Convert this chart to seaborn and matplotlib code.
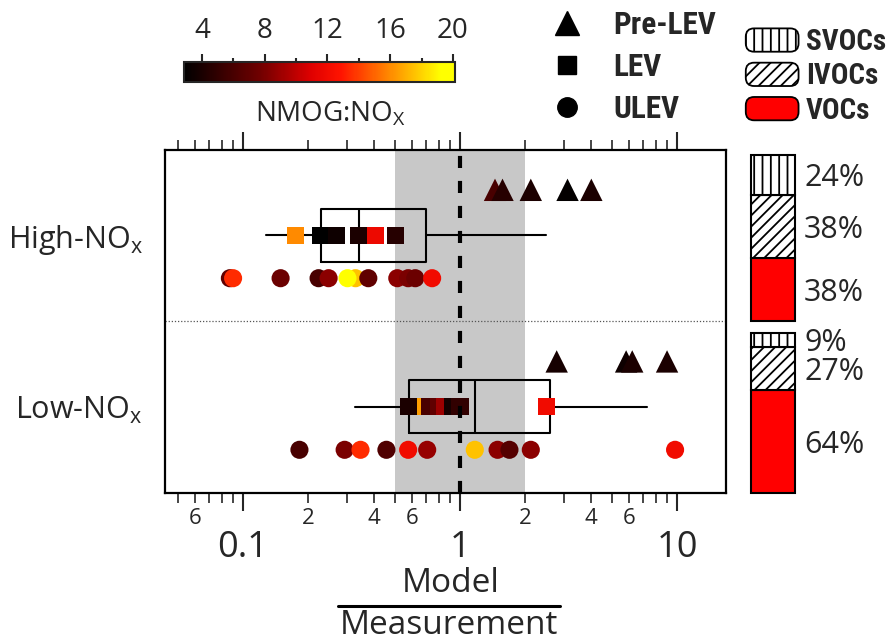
import numpy as np
import pandas as pd
import matplotlib
matplotlib.use("Agg")
import matplotlib.pyplot as plt
import seaborn as sns
from matplotlib.colors import LinearSegmentedColormap, Normalize
from matplotlib.cm import ScalarMappable
from matplotlib.lines import Line2D
from matplotlib.patches import Patch, FancyBboxPatch
from matplotlib.legend_handler import HandlerPatch
from matplotlib.ticker import FixedLocator, FixedFormatter, FuncFormatter

# ---------------- data ----------------
conditions = ["High-NOx", "Low-NOx"]
condition_labels = ["High-NO$_\\mathrm{x}$", "Low-NO$_\\mathrm{x}$"]
vehicle_classes = ["Pre-LEV", "LEV", "ULEV"]

# Model / Measurement ratio and NMOG:NOx per vehicle
high_prelev_ratio = [1.45, 1.57, 2.12, 3.13, 4.03]
high_prelev_nmog = [6.0, 4.5, 4.0, 3.0, 4.0]
high_lev_ratio = [0.175, 0.228, 0.27, 0.34, 0.408, 0.503]
high_lev_nmog = [16.0, 2.9, 3.5, 4.0, 11.8, 4.5]
high_ulev_ratio = [0.087, 0.090, 0.149, 0.223, 0.248, 0.33, 0.303, 0.378, 0.514, 0.577, 0.622, 0.744]
high_ulev_nmog = [7.0, 13.5, 7.5, 6.0, 8.5, 17.5, 19.5, 7.0, 8.5, 8.0, 7.5, 12.0]

low_prelev_ratio = [2.79, 5.83, 6.22, 9.0]
low_prelev_nmog = [3.8, 3.5, 4.0, 4.0]
low_lev_ratio = [0.645, 0.577, 0.72, 0.80, 0.845, 0.92, 1.0, 2.5]
low_lev_nmog = [16.5, 4.0, 6.0, 7.0, 9.0, 3.8, 5.0, 12.0]
low_ulev_ratio = [0.182, 0.294, 0.348, 0.458, 0.577, 0.706, 1.17, 1.49, 1.69, 2.12, 9.8]
low_ulev_nmog = [6.0, 8.0, 13.5, 6.3, 12.0, 8.8, 17.5, 8.5, 6.5, 8.5, 12.0]

# box-plot statistics (whisker low, Q1, median, Q3, whisker high)
high_box = [0.128, 0.230, 0.342, 0.696, 2.48]
low_box = [0.327, 0.585, 1.17, 2.61, 7.28]

# volatility contributions (%)
volatility_classes = ["SVOCs", "IVOCs", "VOCs"]
high_pct = [24, 38, 38]
low_pct = [9, 27, 64]

cbar_ticks = [4, 8, 12, 16, 20]
nmog_range = (2.85, 20.13)

# ---------------- build table ----------------
rows = []
series = {
    ("High-NOx", "Pre-LEV"): (high_prelev_ratio, high_prelev_nmog),
    ("High-NOx", "LEV"): (high_lev_ratio, high_lev_nmog),
    ("High-NOx", "ULEV"): (high_ulev_ratio, high_ulev_nmog),
    ("Low-NOx", "Pre-LEV"): (low_prelev_ratio, low_prelev_nmog),
    ("Low-NOx", "LEV"): (low_lev_ratio, low_lev_nmog),
    ("Low-NOx", "ULEV"): (low_ulev_ratio, low_ulev_nmog),
}
for (cond, cls), (r, n) in series.items():
    for rv, nv in zip(r, n):
        rows.append(dict(condition=cond, vclass=cls, ratio=rv, nmog=nv))
df = pd.DataFrame(rows)

cond_center = {"High-NOx": 1.5, "Low-NOx": 0.5}
class_offset = {"Pre-LEV": 0.265, "LEV": 0.0, "ULEV": -0.25}
df["ypos"] = df["condition"].map(cond_center) + df["vclass"].map(class_offset)

# ---------------- style ----------------
sns.set_style("white")
plt.rcParams["font.family"] = ["Open Sans", "DejaVu Sans"]
plt.rcParams["mathtext.fontset"] = "custom"
plt.rcParams["mathtext.rm"] = "Open Sans"
plt.rcParams["mathtext.it"] = "Open Sans:italic"
plt.rcParams["mathtext.bf"] = "Open Sans:bold"
plt.rcParams["hatch.linewidth"] = 1.3

cmap = LinearSegmentedColormap.from_list(
    "nmog",
    [(0.0, "#000000"), (0.28, "#700000"), (0.47, "#e00000"), (0.58, "#ff1400"),
     (0.77, "#ff9000"), (0.95, "#ffff00"), (1.0, "#ffff00")],
)
norm = Normalize(*nmog_range)

fig = plt.figure(figsize=(8.96, 6.41), dpi=100)
W, H = 896, 641


def px_axes(x0, y0, x1, y1):
    return fig.add_axes([x0 / W, 1 - y1 / H, (x1 - x0) / W, (y1 - y0) / H])


ax = px_axes(165, 149.5, 725.7, 492.7)

# gray factor-of-two band and reference lines
ax.axvspan(0.5, 2.0, color="#c8c8c8", lw=0, zorder=0)
ax.axhline(1.0, color="#555555", lw=0.9, ls=(0, (1, 1.5)), zorder=1)

# box plots
def stats(b):
    return dict(whislo=b[0], q1=b[1], med=b[2], q3=b[3], whishi=b[4], fliers=[])

ax.bxp([stats(high_box), stats(low_box)], positions=[cond_center["High-NOx"], cond_center["Low-NOx"]],
       widths=0.31, orientation="horizontal", showfliers=False, showcaps=False,
       boxprops=dict(color="k", lw=1.5), whiskerprops=dict(color="k", lw=1.5),
       medianprops=dict(color="k", lw=1.5), manage_ticks=False, zorder=3)

markers = {"Pre-LEV": "^", "LEV": "s", "ULEV": "o"}
sizes = {"Pre-LEV": 260, "LEV": 150, "ULEV": 170}
for cls in vehicle_classes:
    sub = df[df["vclass"] == cls]
    sns.scatterplot(data=sub, x="ratio", y="ypos", hue="nmog", palette=cmap, hue_norm=norm,
                    marker=markers[cls], s=sizes[cls], linewidth=0, legend=False, ax=ax, zorder=4)

ax.axvline(1.0, color="k", lw=3, ls=(0, (2.9, 3.1)), zorder=6)

ax.set_xscale("log")
ax.set_xlim(0.0437, 16.77)
ax.set_ylim(0, 2)
ax.set_xlabel("")
ax.set_ylabel("")

ax.xaxis.set_major_locator(FixedLocator([0.1, 1, 10]))
ax.xaxis.set_major_formatter(FixedFormatter(["0.1", "1", "10"]))
minor_vals = [k * 10.0 ** e for e in (-2, -1, 0, 1) for k in range(2, 10)]
ax.xaxis.set_minor_locator(FixedLocator(minor_vals))


def minor_fmt(v, pos):
    k = v / 10 ** np.floor(np.log10(v) + 1e-9)
    k = int(round(k))
    return str(k) if k in (2, 4, 6) else ""


ax.xaxis.set_minor_formatter(FuncFormatter(minor_fmt))
ax.tick_params(axis="x", which="major", direction="out", length=13, width=1.5, labelsize=26,
               pad=14, top=True, bottom=True)
ax.tick_params(axis="x", which="minor", direction="out", length=7, width=1.2, labelsize=16,
               pad=4, top=True, bottom=True)
ax.set_yticks([cond_center[c] for c in conditions])
ax.set_yticklabels(condition_labels)
ax.tick_params(axis="y", length=0, labelsize=22, pad=16)
for s in ax.spines.values():
    s.set_linewidth(1.6)
    s.set_color("k")

# fraction x-label
fig.text(451 / W, 1 - 583 / H, "Model", ha="center", va="center", fontsize=24)
fig.add_artist(Line2D([338 / W, 560 / W], [1 - 606 / H, 1 - 606 / H], color="k", lw=2.2))
fig.text(449 / W, 1 - 626 / H, "Measurement", ha="center", va="center", fontsize=24)

# ---------------- colorbar ----------------
cax = px_axes(184, 62, 455, 82)
cb = fig.colorbar(ScalarMappable(norm=norm, cmap=cmap), cax=cax, orientation="horizontal")
cb.outline.set_linewidth(1.5)
cax.xaxis.set_ticks_position("top")
cax.xaxis.set_label_position("top")
cb.set_ticks(cbar_ticks)
cax.xaxis.set_minor_locator(FixedLocator([6, 10, 14, 18]))
cax.tick_params(which="major", length=6, width=1.5, labelsize=20, pad=6)
cax.tick_params(which="minor", length=3, width=1.5)
cax.text(0.54, -1.6, "NMOG:NO$_\\mathrm{X}$", transform=cax.transAxes, ha="center", va="center",
         fontsize=20)

legend_font = ["Liberation Sans Narrow", "Roboto Condensed", "Roboto"]

# ---------------- vehicle class legend ----------------
mk_handles = [Line2D([], [], marker=markers[c], color="k", ls="none",
                     markersize={"Pre-LEV": 17, "LEV": 13, "ULEV": 14}[c]) for c in vehicle_classes]
fig.legend(mk_handles, vehicle_classes, loc="upper left", bbox_to_anchor=(551 / W, 1 - 10 / H),
           frameon=False, borderpad=0, borderaxespad=0, handlelength=1.0, handletextpad=1.0,
           labelspacing=0.38, prop=dict(family=legend_font, weight="bold", size=22.5))


# ---------------- volatility legend ----------------
class HandlerRound(HandlerPatch):
    def create_artists(self, legend, orig_handle, xdescent, ydescent, width, height, fontsize, trans):
        p = FancyBboxPatch((-xdescent + 2, -ydescent + 1), width - 4, height - 2,
                           boxstyle="round,pad=0,rounding_size=6",
                           facecolor=orig_handle.get_facecolor(), edgecolor="k",
                           hatch=orig_handle.get_hatch(), lw=1.3, transform=trans)
        return [p]


vol_fc = {"SVOCs": "white", "IVOCs": "white", "VOCs": "#ff0000"}
vol_hatch = {"SVOCs": "||", "IVOCs": "///", "VOCs": None}
vol_handles = [Patch(facecolor=vol_fc[v], edgecolor="k", hatch=vol_hatch[v]) for v in volatility_classes]
fig.legend(vol_handles, volatility_classes, loc="upper left", bbox_to_anchor=(743 / W, 1 - 27 / H),
           frameon=False, borderpad=0, borderaxespad=0, handlelength=2.0, handleheight=1.0,
           handletextpad=0.15, labelspacing=0.18,
           prop=dict(family=legend_font, weight="bold", size=21),
           handler_map={Patch: HandlerRound()})

# ---------------- stacked volatility bars ----------------
bax = px_axes(750.5, 149.5, 794.5, 492.7)
bax.set_ylim(0, 2)
bax.set_xlim(-0.5, 0.5)
bax.axis("off")
bar_span = {"High-NOx": (1.0, 1.97), "Low-NOx": (0.0, 0.933)}
pcts = {"High-NOx": high_pct, "Low-NOx": low_pct}
stack_order = ["VOCs", "IVOCs", "SVOCs"]
for cond in conditions:
    lo, hi = bar_span[cond]
    total = hi - lo
    vals = dict(zip(volatility_classes, pcts[cond]))
    bottom = lo
    for v in stack_order:
        h = vals[v] / 100 * total
        bax.bar(0, h, bottom=bottom, width=1.0, facecolor=vol_fc[v], edgecolor="k",
                hatch=vol_hatch[v], lw=1.5, clip_on=False)
        bax.text(0.72, bottom + h / 2, f"{vals[v]}%", ha="left", va="center_baseline", fontsize=22,
                 transform=bax.transData, clip_on=False)
        bottom += h

fig.savefig("out.png", dpi=100)
